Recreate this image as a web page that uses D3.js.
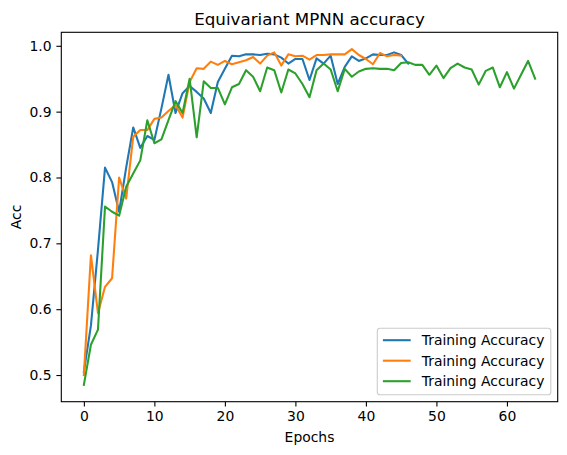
<!DOCTYPE html>
<html>
<head>
<meta charset="utf-8">
<script src="https://cdn.jsdelivr.net/npm/d3@7"></script>
<style>
    html, body { margin: 0; padding: 0; background: #fff; }
    svg { display: block; font-family: "DejaVu Sans", sans-serif; }
</style>
</head>
<body>
<div id="chart"></div>
<script>
const blueAcc = [
    0.505, 0.575, 0.69, 0.815, 0.793, 0.748, 0.815, 0.876, 0.845, 0.863,
    0.857, 0.905, 0.956, 0.898, 0.928, 0.939, 0.930, 0.920, 0.898, 0.945,
    0.965, 0.985, 0.984, 0.987, 0.987, 0.986, 0.988, 0.987, 0.982, 0.973,
    0.980, 0.980, 0.948, 0.981, 0.973, 0.985, 0.942, 0.968, 0.984, 0.977,
    0.981, 0.987, 0.986, 0.986, 0.990, 0.986, 0.973
]
const orangeAcc = [
    0.500, 0.682, 0.594, 0.634, 0.647, 0.800, 0.768, 0.862, 0.872, 0.872,
    0.889, 0.891, 0.901, 0.910, 0.891, 0.945, 0.966, 0.965, 0.976, 0.971,
    0.977, 0.972, 0.975, 0.978, 0.983, 0.973, 0.985, 0.990, 0.970, 0.987,
    0.984, 0.985, 0.979, 0.986, 0.986, 0.987, 0.987, 0.987, 0.995, 0.986,
    0.980, 0.972, 0.989, 0.984, 0.986, 0.985
]
const greenAcc = [
    0.485, 0.546, 0.569, 0.756, 0.748, 0.742, 0.786, 0.806, 0.826, 0.887,
    0.852, 0.858, 0.887, 0.916, 0.898, 0.950, 0.861, 0.946, 0.936, 0.936,
    0.911, 0.937, 0.942, 0.963, 0.953, 0.931, 0.967, 0.963, 0.929, 0.964,
    0.958, 0.942, 0.922, 0.963, 0.973, 0.964, 0.931, 0.965, 0.953, 0.961,
    0.965, 0.966, 0.965, 0.965, 0.963, 0.974, 0.975, 0.971, 0.971, 0.956,
    0.970, 0.951, 0.966, 0.973, 0.967, 0.964, 0.941, 0.962, 0.967, 0.937,
    0.960, 0.935, 0.956, 0.977, 0.950
]
const seriesNames = ['Training Accuracy', 'Training Accuracy', 'Training Accuracy']
const seriesColors = ['#1f77b4', '#ff7f0e', '#2ca02c']
const xTicks = [0, 10, 20, 30, 40, 50, 60]
const yTicks = [0.5, 0.6, 0.7, 0.8, 0.9, 1.0]

const W = 567, H = 455
const box = { left: 61.3, top: 32.3, right: 557.7, bottom: 401.7 }

const allSeries = [blueAcc, orangeAcc, greenAcc]

// matplotlib style 5% margins around the data
const withMargin = ([lo, hi]) => {
    const pad = (hi - lo) * 0.05
    return [lo - pad, hi + pad]
}
const xMax = d3.max(allSeries, s => s.length - 1)
const yExt = d3.extent(allSeries.flat())

const x = d3.scaleLinear().domain(withMargin([0, xMax])).range([box.left, box.right])
const y = d3.scaleLinear().domain(withMargin(yExt)).range([box.bottom, box.top])

const svg = d3.select('#chart').append('svg')
    .attr('width', W)
    .attr('height', H)

svg.append('rect').attr('width', W).attr('height', H).attr('fill', '#fff')

const line = d3.line()
    .x((d, i) => x(i))
    .y(d => y(d))

allSeries.forEach((values, i) => {
    svg.append('path')
        .datum(values)
        .attr('d', line)
        .attr('fill', 'none')
        .attr('stroke', seriesColors[i])
        .attr('stroke-width', 2.08)
        .attr('stroke-linejoin', 'round')
        .attr('stroke-linecap', 'square')
})

const tickFont = 13.9

const xAxis = svg.append('g')
    .attr('transform', `translate(0,${box.bottom})`)
    .call(d3.axisBottom(x).tickValues(xTicks).tickFormat(d3.format('d')).tickSize(4.9).tickPadding(4.9))
const yAxis = svg.append('g')
    .attr('transform', `translate(${box.left},0)`)
    .call(d3.axisLeft(y).tickValues(yTicks).tickFormat(d3.format('.1f')).tickSize(4.9).tickPadding(4.9))

for (const ax of [xAxis, yAxis]) {
    ax.select('.domain').remove()
    ax.selectAll('.tick line').attr('stroke', '#000').attr('stroke-width', 1.1)
    ax.selectAll('.tick text')
        .attr('fill', '#000')
        .style('font-size', `${tickFont}px`)
        .style('font-family', '"DejaVu Sans", sans-serif')
}

svg.append('rect')
    .attr('x', box.left)
    .attr('y', box.top)
    .attr('width', box.right - box.left)
    .attr('height', box.bottom - box.top)
    .attr('fill', 'none')
    .attr('stroke', '#000')
    .attr('stroke-width', 1.1)

const midX = (box.left + box.right) / 2
const midY = (box.top + box.bottom) / 2

svg.append('text')
    .attr('x', midX)
    .attr('y', 25)
    .attr('text-anchor', 'middle')
    .style('font-size', '16.7px')
    .text('Equivariant MPNN accuracy')

svg.append('text')
    .attr('x', midX)
    .attr('y', 441.5)
    .attr('text-anchor', 'middle')
    .style('font-size', `${tickFont}px`)
    .text('Epochs')

svg.append('text')
    .attr('transform', `translate(21,${midY}) rotate(-90)`)
    .attr('text-anchor', 'middle')
    .style('font-size', `${tickFont}px`)
    .text('Acc')

// legend, lower right
const legend = { left: 377.3, top: 328.3, right: 550.8, bottom: 394.8 }
svg.append('rect')
    .attr('x', legend.left)
    .attr('y', legend.top)
    .attr('width', legend.right - legend.left)
    .attr('height', legend.bottom - legend.top)
    .attr('rx', 2.8)
    .attr('fill', '#fff')
    .attr('fill-opacity', 0.8)
    .attr('stroke', '#cccccc')
    .attr('stroke-width', 1.1)

const rowY = d3.scaleLinear().domain([0, 2]).range([340.2, 381.2])
seriesNames.forEach((name, i) => {
    const cy = rowY(i)
    svg.append('line')
        .attr('x1', legend.left + 5.6)
        .attr('x2', legend.left + 5.6 + 27.8)
        .attr('y1', cy)
        .attr('y2', cy)
        .attr('stroke', seriesColors[i])
        .attr('stroke-width', 2.08)
    svg.append('text')
        .attr('x', legend.left + 5.6 + 27.8 + 11.1)
        .attr('y', cy + 5)
        .style('font-size', `${tickFont}px`)
        .text(name)
})
</script>
</body>
</html>
